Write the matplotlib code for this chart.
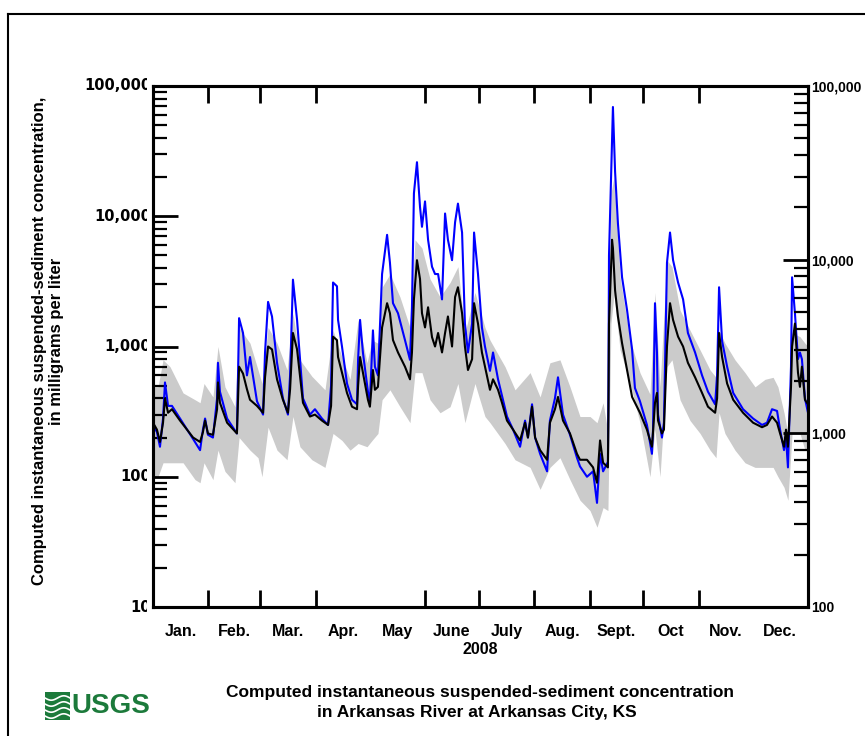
import matplotlib
matplotlib.use("Agg")
import matplotlib.pyplot as plt
from matplotlib.patches import Rectangle
from matplotlib.lines import Line2D
from matplotlib.transforms import Bbox, blended_transform_factory
from matplotlib.ticker import LogLocator, NullFormatter, FixedLocator
import numpy as np

# ---------------- data (day of year 2008, mg/L) ----------------
line_days = [0, 2.2, 3.9, 5.6, 6.7, 8.4, 10.6, 15.1, 19, 22.4,
             26.3, 27.9, 29.1, 30.7, 33.5, 35.8, 36.3, 37.4, 41.4, 46.9,
             48.1, 50.3, 52.5, 54.2, 58.1, 61.5, 62.6, 64.3, 66.5, 69.3,
             72.6, 75.4, 76.6, 78.2, 80.5, 83.8, 87.7, 90.5, 94.4, 97.8,
             99.5, 100.6, 102.8, 103.4, 105.6, 108.4, 111.2, 114, 114.6, 115.7,
             117.3, 120.1, 121.2, 122.9, 124, 125.7, 128, 130.8, 132.4, 134.1,
             136.9, 140.8, 143.6, 144.7, 145.8, 147.5, 149.2, 150.3, 152, 153.7,
             155.9, 157.6, 159.3, 161.5, 163.2, 164.8, 167.1, 168.8, 170.4, 172.7,
             174.3, 176, 178.3, 179.4, 181.6, 183.8, 185.5, 188.3, 190, 192.8,
             195, 197.8, 201.2, 205.1, 207.9, 209.5, 211.8, 213.5, 216.3, 220.2,
             221.8, 224.6, 226.3, 229.1, 233, 236.9, 238.6, 242.5, 245.9, 248.1,
             249.8, 251.5, 254.2, 254.5, 254.8, 256.5, 257, 258.2, 259.8, 262.1,
             264.9, 267.7, 269.3, 272.1, 276, 278.8, 279.4, 280.5, 281.6, 282.2,
             284.4, 285.5, 287.2, 288.9, 290.6, 293.4, 296.2, 298.9, 302.9, 306.8,
             310.1, 314.1, 315.2, 316.3, 318, 320.8, 324.2, 329.7, 335.3, 340.3,
             343.1, 345.9, 348.7, 350.4, 352.6, 353.7, 354.8, 356.5, 357.1, 358.7,
             360.4, 361.5, 362.6, 364.3, 366]

black_conc = [260, 230, 185, 260, 400, 310, 330, 270, 230, 200,
              185, 220, 270, 215, 210, 330, 530, 370, 260, 215,
              700, 620, 470, 390, 350, 310, 580, 1000, 950, 560,
              390, 310, 470, 1270, 950, 370, 290, 300, 270, 250,
              350, 1190, 1120, 830, 630, 440, 345, 330, 500, 830,
              630, 390, 345, 660, 465, 490, 1400, 2150, 1800, 1120,
              900, 700, 560, 900, 2300, 4600, 3300, 1800, 1400, 2000,
              1180, 1000, 1270, 900, 1270, 1700, 1000, 2400, 2850, 1800,
              1000, 660, 800, 2150, 1500, 900, 700, 465, 560, 465,
              370, 270, 230, 190, 260, 200, 345, 200, 160, 135,
              260, 330, 410, 270, 215, 150, 135, 135, 118, 90,
              190, 128, 118, 345, 1500, 6600, 5700, 2700, 1700, 1060,
              660, 410, 370, 310, 230, 170, 220, 370, 440, 270,
              215, 230, 1000, 2150, 1600, 1190, 1000, 750, 580, 440,
              345, 310, 400, 1270, 830, 520, 390, 310, 260, 240,
              250, 290, 260, 215, 170, 230, 170, 490, 1000, 1500,
              630, 490, 700, 390, 360]

blue_conc = [250, 220, 170, 280, 530, 350, 350, 280, 230, 195,
             160, 230, 280, 210, 200, 400, 750, 450, 280, 215,
             1650, 1270, 600, 830, 380, 300, 900, 2200, 1700, 750,
             400, 300, 600, 3260, 1600, 400, 300, 330, 280, 250,
             500, 3100, 2900, 1600, 1000, 520, 390, 360, 800, 1600,
             900, 450, 380, 1330, 700, 600, 3600, 7200, 4400, 2150,
             1800, 1120, 790, 2000, 15000, 26000, 11800, 8300, 13000, 6600,
             4100, 3600, 3600, 2300, 10500, 6600, 4600, 9000, 12500, 7500,
             1500, 900, 1500, 7500, 3600, 1400, 1000, 650, 900, 560,
             420, 290, 230, 170, 270, 200, 360, 200, 150, 110,
             270, 400, 580, 300, 210, 140, 120, 100, 110, 63,
             150, 110, 130, 500, 5000, 38000, 69000, 22000, 8800, 3400,
             1900, 950, 480, 380, 250, 150, 230, 2150, 900, 300,
             200, 260, 4400, 7500, 4600, 3100, 2300, 1270, 900, 600,
             450, 360, 600, 2850, 1100, 700, 440, 330, 280, 250,
             260, 330, 320, 230, 160, 200, 118, 700, 3400, 1800,
             800, 900, 800, 400, 310]

band_days = [0, 2.8, 5.6, 9.5, 16.8, 23.5, 26.3, 28.5, 33.5, 36.3,
             40.2, 45.8, 48.1, 54.2, 58.7, 60.9, 64.3, 69.3, 74.9, 78.2,
             82.1, 88.8, 96.1, 100.6, 105.6, 110.1, 114.6, 119.6, 122.4, 125.7,
             128, 132.4, 138, 143.6, 146.4, 150.3, 154.8, 160.4, 166, 170.4,
             174.3, 179.9, 185.5, 188.3, 196.7, 202.3, 210.7, 216.3, 221.8, 227.4,
             233, 238.6, 244.2, 248.1, 251.5, 254.2, 255.9, 257.6, 261, 266.6,
             272.1, 277.7, 280.5, 283.3, 287.2, 290, 294.5, 300.1, 305.7, 311.3,
             314.6, 316.3, 319.6, 325.2, 330.8, 336.4, 342, 346.5, 349.2, 352.6,
             354.8, 357.1, 361.5, 364.3, 366]

band_high = [490, 490, 790, 700, 440, 390, 370, 520, 410, 1000,
             490, 345, 1400, 1060, 660, 520, 1400, 1060, 660, 1800,
             790, 590, 465, 1330, 830, 560, 1600, 750, 1120, 1060,
             2850, 3600, 2400, 1400, 6600, 5700, 3300, 2400, 3100, 4100,
             1270, 2600, 1400, 1120, 700, 465, 630, 410, 750, 790,
             490, 290, 290, 260, 370, 220, 15000, 20000, 3400, 1120,
             630, 430, 2600, 490, 4600, 4100, 1900, 1330, 940, 660,
             580, 1330, 1060, 790, 630, 490, 560, 580, 490, 310,
             215, 1270, 1190, 1060, 1000]

band_low = [100, 100, 128, 128, 128, 95, 90, 128, 95, 160,
            110, 90, 200, 160, 140, 100, 240, 160, 135, 290,
            170, 135, 118, 215, 190, 160, 180, 170, 190, 215,
            390, 465, 345, 260, 630, 630, 390, 310, 345, 520,
            260, 520, 290, 260, 180, 135, 118, 80, 118, 140,
            95, 66, 55, 41, 58, 55, 1500, 2500, 940, 520,
            260, 100, 230, 100, 700, 790, 390, 270, 215, 160,
            140, 310, 215, 160, 128, 118, 118, 118, 100, 83,
            66, 215, 215, 160, 160]

months = ["Jan.", "Feb.", "Mar.", "Apr.", "May", "June", "July", "Aug.",
          "Sept.", "Oct", "Nov.", "Dec."]
month_starts = [0, 31, 60, 91, 121, 152, 182, 213, 244, 274, 305, 335, 366]
tick_days = [31, 60, 91, 152, 182, 213, 244, 274, 305]
year_label = "2008"

left_ticks = [10, 100, 1000, 10000, 100000]
left_tick_labels = ["10", "100", "1,000", "10,000", "100,000"]
right_ticks = [100, 1000, 10000, 100000]
right_tick_labels = ["100", "1,000", "10,000", "100,000"]

ylabel_lines = ["Computed instantaneous suspended-sediment concentration,",
                "in milligrams per liter"]
title_lines = ["Computed instantaneous suspended-sediment concentration",
               "in Arkansas River at Arkansas City, KS"]

# ---------------- figure ----------------
W, H = 865, 736
fig = plt.figure(figsize=(W / 100, H / 100), dpi=100)
fig.patch.set_facecolor("white")

SANS = ["Liberation Sans", "DejaVu Sans"]
NUMF = ["DejaVu Sans"]


def fx(px):
    return px / W


def fy(py):
    return 1 - py / H


L, R, T, B = 153, 808, 86, 607
ax = fig.add_axes([fx(L), fy(B), (R - L) / W, (B - T) / H])
ax.set_yscale("log")
ax.set_xlim(0, 366)
ax.set_ylim(10, 100000)

ax.fill_between(band_days, band_low, band_high,
                color="#cbcbcb", lw=0, zorder=1)
ax.plot(line_days, blue_conc, color="#0000ff", lw=1.5, zorder=2)
ax.plot(line_days, black_conc, color="black", lw=1.5, zorder=3)

for s in ax.spines.values():
    s.set_linewidth(2.2)

# x axis
ax.xaxis.set_major_locator(FixedLocator(tick_days))
ax.xaxis.set_major_formatter(NullFormatter())
mids = [(month_starts[i] + month_starts[i + 1]) / 2 for i in range(12)]
ax.xaxis.set_minor_locator(FixedLocator(mids))
ax.set_xticklabels(months, minor=True, fontfamily=SANS, fontweight="bold",
                   fontsize=11.5)
ax.tick_params(axis="x", which="major", direction="in", length=12, width=2,
               top=True, bottom=True)
ax.tick_params(axis="x", which="minor", length=0, pad=12, top=False)
ax.text(0.5, fy(650), year_label,
        transform=blended_transform_factory(ax.transAxes, fig.transFigure),
        ha="center", va="center", fontfamily=SANS, fontweight="bold", fontsize=11.5)

# left y axis
ax.yaxis.set_major_locator(FixedLocator(left_ticks))
ax.yaxis.set_major_formatter(NullFormatter())
ax.yaxis.set_minor_locator(LogLocator(base=10, subs=range(2, 10)))
ax.yaxis.set_minor_formatter(NullFormatter())
ax.tick_params(axis="y", which="major", direction="in", length=18, width=2,
               left=True, right=False)
ax.tick_params(axis="y", which="minor", direction="in", length=10, width=1.6,
               left=True, right=False)

tr = blended_transform_factory(fig.transFigure, ax.transData)
for v, lab in zip(left_ticks, left_tick_labels):
    t = ax.text(fx(151), v, lab, transform=tr, ha="right", va="center",
                fontfamily=NUMF, fontweight="bold", fontsize=10.5)
    t.set_clip_box(Bbox.from_extents(0, 0, 147, H))
    t.set_clip_on(True)

# right y axis
ax2 = ax.twinx()
ax2.set_yscale("log")
ax2.set_ylim(100, 100000)
ax2.yaxis.set_major_locator(FixedLocator(right_ticks))
ax2.set_yticklabels(right_tick_labels, fontfamily=SANS, fontweight="bold", fontsize=10)
ax2.yaxis.set_minor_locator(LogLocator(base=10, subs=range(2, 10)))
ax2.yaxis.set_minor_formatter(NullFormatter())
ax2.tick_params(axis="y", which="major", direction="in", length=18, width=2, pad=2)
ax2.tick_params(axis="y", which="minor", direction="in", length=10, width=1.6)
for s in ax2.spines.values():
    s.set_linewidth(2.2)

# y label (two lines)
fig.text(fx(40), fy(341), ylabel_lines[0], rotation=90, ha="center", va="center",
         fontfamily=SANS, fontweight="bold", fontsize=12)
fig.text(fx(57), fy(341), ylabel_lines[1], rotation=90, ha="center", va="center",
         fontfamily=SANS, fontweight="bold", fontsize=12)

# title lines
fig.text(fx(480), fy(692), title_lines[0], ha="center", va="center",
         fontfamily=SANS, fontweight="bold", fontsize=12.5)
fig.text(fx(477), fy(713), title_lines[1], ha="center", va="center",
         fontfamily=SANS, fontweight="bold", fontsize=12.5)

# USGS logo
green = "#1c7a3b"
fig.add_artist(Rectangle((fx(45), fy(720)), (70 - 45) / W, 28 / H,
                         transform=fig.transFigure, facecolor=green, edgecolor="none"))
for k in range(4):
    xs = np.linspace(45, 70, 30)
    ys = 698 + k * 6 + 2.2 * np.sin((xs - 45) / 25 * 2 * np.pi)
    fig.add_artist(Line2D(fx(xs), fy(ys), transform=fig.transFigure,
                          color="white", lw=1.2))
fig.text(fx(71), fy(706), "USGS", ha="left", va="center", color=green,
         fontfamily=SANS, fontweight="bold", fontsize=20)

# figure border
fig.add_artist(Line2D([fx(8), fx(8)], [fy(14), 0], transform=fig.transFigure,
                      color="black", lw=1.5))
fig.add_artist(Line2D([fx(8), 1], [fy(14), fy(14)], transform=fig.transFigure,
                      color="black", lw=1.5))

fig.savefig("out.png", dpi=100)
